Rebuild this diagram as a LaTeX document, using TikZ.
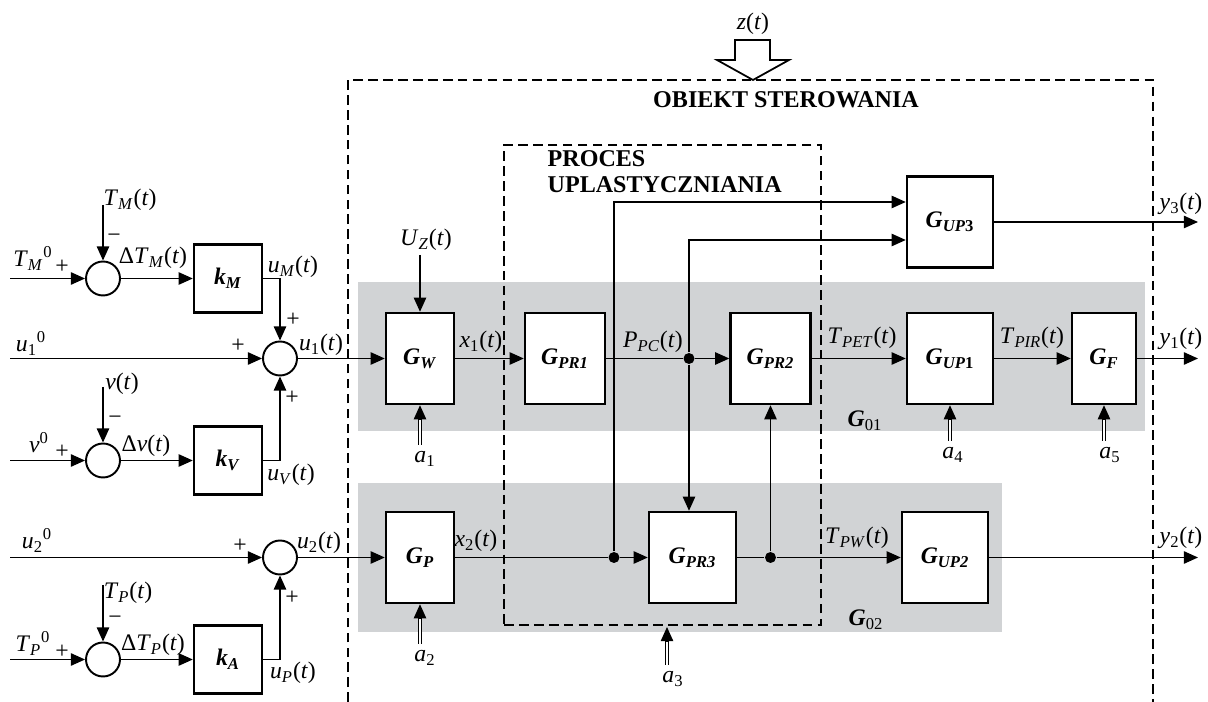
\documentclass[tikz,border=0pt]{standalone}
\usepackage{fontspec}
\setmainfont{Liberation Serif}
\usetikzlibrary{arrows.meta,calc}
\definecolor{band}{RGB}{209,211,213}
\newcommand{\sg}[2]{\textit{#1}\textsubscript{#2}}
\newcommand{\gb}[2]{\textbf{\textit{#1}\textsubscript{#2}}}
\begin{document}
\begin{tikzpicture}[x=0.02cm,y=-0.02cm,
  font=\fontsize{13.5}{16}\selectfont,line width=0.8pt,
  arr/.style={-{Triangle[length=8pt,width=7pt]}},
  blk/.style={draw,line width=1.4pt,fill=white,inner sep=0pt,minimum width=#1,minimum height=1.82cm},
  blk/.default=1.36cm,
  gain/.style={blk,minimum height=1.36cm},
  sum/.style={circle,draw,line width=1.1pt,fill=white,minimum size=0.68cm,inner sep=0pt},
  dot/.style={circle,fill,minimum size=0.22cm,inner sep=0pt},
  dbl/.style={double,double distance=1.6pt,line width=0.6pt,shorten >=7pt},
  dashbox/.style={dash pattern=on 5.5pt off 3pt,line width=1pt}]
\useasboundingbox (0,0) rectangle (1208,702);

\fill[band] (358,282) rectangle (1145,431);
\fill[band] (358,483) rectangle (1002,632);
\draw[dashbox] (348,702) -- (348,80) -- (1153,80) -- (1153,702);
\node[dashbox,draw,inner sep=0pt,minimum width=6.34cm,minimum height=9.6cm] (proc) at (662.5,385) {};

\node[font=\fontsize{13.7}{16}\selectfont\bfseries] (obj) at (786,100) {OBIEKT STEROWANIA};
\node[font=\fontsize{13.7}{14.7}\selectfont\bfseries,align=left,anchor=north west,inner sep=0pt] (proclab) at (547,150) {PROCES\\UPLASTYCZNIANIA};

\coordinate (zt) at (753,80);
\draw[line width=1pt,fill=white] (zt) -- ++(-36,-20) -- ++(18,0) -- ++(0,-20) -- ++(35,0) -- ++(0,20) -- ++(19,0) -- cycle;
\node (lz) at (753,24) {\textit{z}(\textit{t})};

\node[sum] (s1) at (103,278.5) {};
\node[sum] (s2) at (280,358.5) {};
\node[sum] (s3) at (103,460.5) {};
\node[sum] (s4) at (280,557.5) {};
\node[sum] (s5) at (103,659.5) {};

\node[gain] (kM) at (228,278.5) {\gb{k}{\textit{M}}};
\node[gain] (kV) at (228,460.5) {\gb{k}{\textit{V}}};
\node[gain] (kA) at (228,659.5) {\gb{k}{\textit{A}}};

\node[blk] (GW) at (420,358.5) {\gb{G}{\textit{W}}};
\node[blk=1.6cm] (GPR1) at (565,358.5) {\gb{G}{\textit{PR1}}};
\node[blk=1.6cm] (GPR2) at (770.5,358.5) {\gb{G}{\textit{PR2}}};
\node[blk] (GP) at (420,557.5) {\gb{G}{\textit{P}}};
\node[blk=1.74cm] (GPR3) at (692.5,557.5) {\gb{G}{\textit{PR3}}};
\node[blk=1.72cm] (GUP3) at (950,222) {\gb{G}{\textit{UP}3}};
\node[blk=1.72cm] (GUP1) at (950,358.5) {\gb{G}{\textit{UP}1}};
\node[blk=1.28cm] (GF) at (1104,358.5) {\gb{G}{\textit{F}}};
\node[blk=1.72cm] (GUP2) at (945,557.5) {\gb{G}{\textit{UP2}}};

\node[dot] (d1) at (689,358.5) {};
\node[dot] (d2) at (614,557.5) {};
\node[dot] (d3) at (770.5,557.5) {};

\node (lTM) at (130,200) {\sg{T}{\textit{M}}(\textit{t})};
\node (lTM0) at (33,258) {\sg{T}{\textit{M}}\textsuperscript{0}};
\node (pTM) at (62,267) {+};
\node (mTM) at (114,238) {−};
\node (lDTM) at (153,258) {Δ\sg{T}{\textit{M}}(\textit{t})};
\node (luM) at (293,267) {\sg{u}{\textit{M}}(\textit{t})};
\node (pM) at (293,320) {+};
\node (lu10) at (31,343) {\sg{u}{1}\textsuperscript{0}};
\node (pu1) at (238,346) {+};
\node (lu1) at (321,345) {\sg{u}{1}(\textit{t})};
\node (lv) at (122,384) {\textit{v}(\textit{t})};
\node (mv) at (115,420) {−};
\node (lv0) at (39,443) {\textit{v}\textsuperscript{0}};
\node (pv) at (62,452) {+};
\node (lDv) at (146,446) {Δ\textit{v}(\textit{t})};
\node (luV) at (291,475) {\sg{u}{\textit{V}}(\textit{t})};
\node (pV) at (292,398) {+};
\node (lu20) at (37,540) {\sg{u}{2}\textsuperscript{0}};
\node (pu2) at (240,546) {+};
\node (lu2) at (319,543) {\sg{u}{2}(\textit{t})};
\node (lTP) at (128,593) {\sg{T}{\textit{P}}(\textit{t})};
\node (mTP) at (115,620) {−};
\node (lTP0) at (33,643) {\sg{T}{\textit{P}}\textsuperscript{0}};
\node (pTP) at (62,652) {+};
\node (lDTP) at (153,645) {Δ\sg{T}{\textit{P}}(\textit{t})};
\node (luP) at (293,673) {\sg{u}{\textit{P}}(\textit{t})};
\node (pP) at (292,598) {+};

\node (lUZ) at (426,240) {\sg{U}{\textit{Z}}(\textit{t})};
\node (lx1) at (481,342) {\sg{x}{1}(\textit{t})};
\node (lPPC) at (653,342) {\sg{P}{\textit{PC}}(\textit{t})};
\node (lTPET) at (862,338) {\sg{T}{\textit{PET}}(\textit{t})};
\node (lTPIR) at (1032,338) {\sg{T}{\textit{PIR}}(\textit{t})};
\node (ly1) at (1181,339) {\sg{y}{1}(\textit{t})};
\node (ly3) at (1181,204) {\sg{y}{3}(\textit{t})};
\node (ly2) at (1181,538) {\sg{y}{2}(\textit{t})};
\node (lx2) at (476,541) {\sg{x}{2}(\textit{t})};
\node (lTPW) at (857,538) {\sg{T}{\textit{PW}}(\textit{t})};
\node (G01) at (865,421) {\textbf{\textit{G}}\textsubscript{01}};
\node (G02) at (866,620) {\textbf{\textit{G}}\textsubscript{02}};
\node (a1) at (425,459) {\sg{a}{1}};
\node (a2) at (425,658) {\sg{a}{2}};
\node (a3) at (673,679) {\sg{a}{3}};
\node (a4) at (953,455) {\sg{a}{4}};
\node (a5) at (1110,455) {\sg{a}{5}};

\coordinate (iTM) at (10,278.5);
\coordinate (tTM) at (103,205);
\coordinate (iu1) at (10,358.5);
\coordinate (iv) at (10,460.5);
\coordinate (tv) at (103,387);
\coordinate (iu2) at (10,557.5);
\coordinate (iTP) at (10,659.5);
\coordinate (tTP) at (103,585);
\coordinate (tUZ) at (420,255);
\coordinate (a3t) at (667,627);
\coordinate (y1out) at (1198,358.5);
\coordinate (y2out) at (1198,557.5);
\coordinate (y3out) at (1198,222);

\draw[arr] (iTM) -- (s1);
\draw[arr] (tTM) -- (s1);
\draw[arr] (s1) -- (kM);
\draw[arr] (kM.east) -| (s2);
\draw[arr] (iu1) -- (s2);
\draw[arr] (kV.east) -| (s2);
\draw[arr] (iv) -- (s3);
\draw[arr] (tv) -- (s3);
\draw[arr] (s3) -- (kV);
\draw[arr] (iu2) -- (s4);
\draw[arr] (kA.east) -| (s4);
\draw[arr] (iTP) -- (s5);
\draw[arr] (tTP) -- (s5);
\draw[arr] (s5) -- (kA);

\draw[arr] (s2) -- (GW);
\draw[arr] (s4) -- (GP);
\draw[arr] (tUZ) -- (GW);
\draw[arr] (GW) -- (GPR1);
\draw (GPR1) -- (d1);
\draw[arr] (d1) -- (GPR2);
\draw[arr] (d1) |- ($(GUP3.west)+(0,18)$);
\draw[arr] (d1) -- (d1 |- GPR3.north);
\draw (GP) -- (d2);
\draw[arr] (d2) -- (GPR3);
\draw[arr] (d2) |- ($(GUP3.west)+(0,-20)$);
\draw (GPR3) -- (d3);
\draw[arr] (d3) -- (GUP2);
\draw[arr] (d3) -- (d3 |- GPR2.south);
\draw[arr] (GPR2) -- (GUP1);
\draw[arr] (GUP1) -- (GF);
\draw[arr] (GF) -- (y1out);
\draw[arr] (GUP3) -- (y3out);
\draw[arr] (GUP2) -- (y2out);

\draw[dbl] (GW.south |- a1.north) -- (GW.south);
\draw[arr] ($(GW.south)+(0,14)$) -- (GW.south);
\draw[dbl] (GP.south |- a2.north) -- (GP.south);
\draw[arr] ($(GP.south)+(0,14)$) -- (GP.south);
\draw[dbl] (a3t |- a3.north) -- (a3t);
\draw[arr] ($(a3t)+(0,14)$) -- (a3t);
\draw[dbl] (GUP1.south |- a4.north) -- (GUP1.south);
\draw[arr] ($(GUP1.south)+(0,14)$) -- (GUP1.south);
\draw[dbl] (GF.south |- a5.north) -- (GF.south);
\draw[arr] ($(GF.south)+(0,14)$) -- (GF.south);
\end{tikzpicture}
\end{document}
